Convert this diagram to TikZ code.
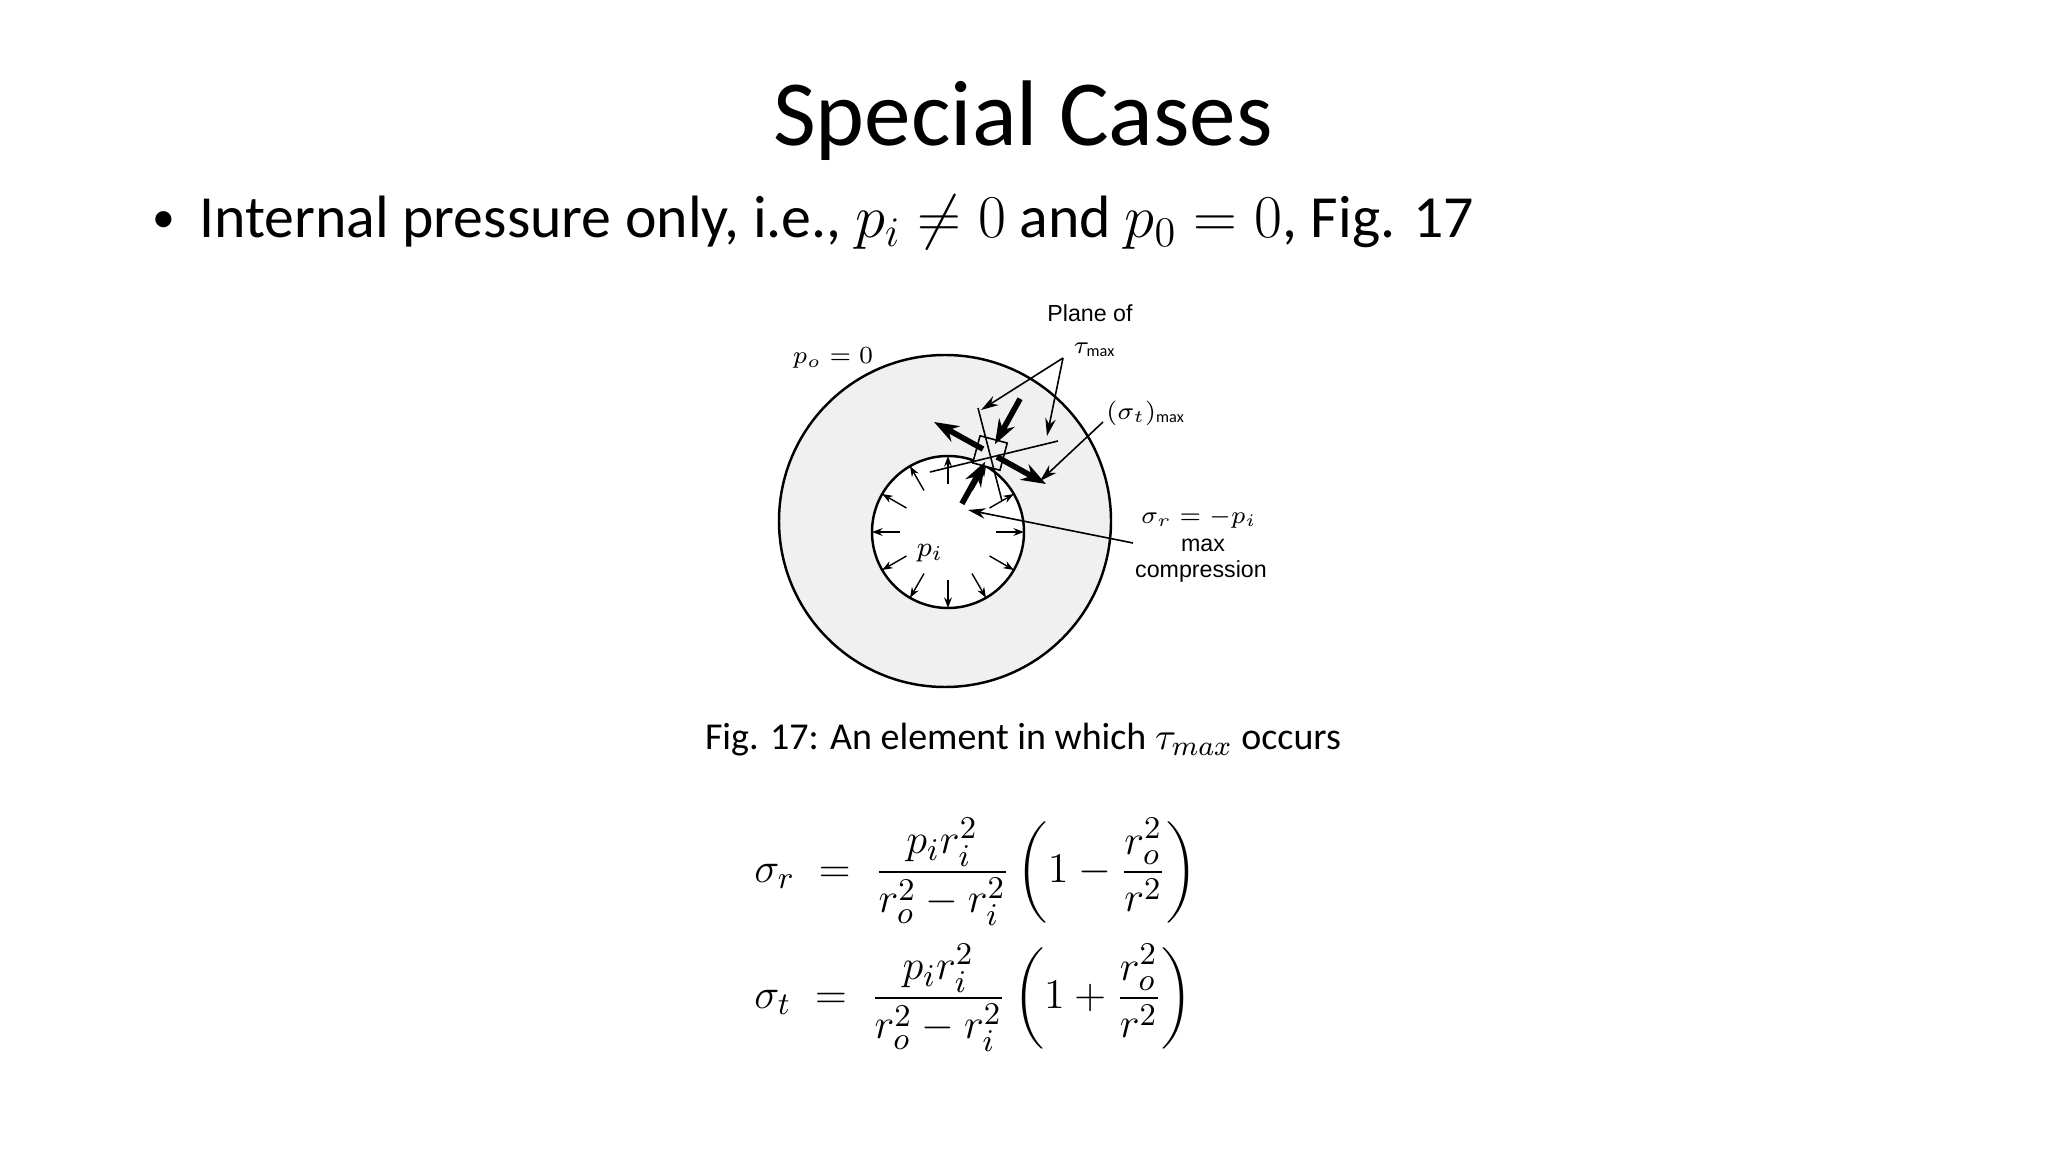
\documentclass[tikz,border=0pt]{standalone}
\usepackage{amsmath}
\usepackage{fontspec}
\setmainfont{Carlito}
\newfontfamily\figfont{Liberation Sans}
\usetikzlibrary{arrows.meta,calc}
\begin{document}
\begin{tikzpicture}[x=0.01cm,y=-0.01cm,
  lbl/.style={font=\figfont\fontsize{6.6}{7.5}\selectfont,inner sep=0pt,align=center},
  thin/.style={line width=0.45pt},
  thick arr/.style={line width=1.6pt,-{Stealth[length=7pt,width=5pt]}},
  small arr/.style={line width=0.4pt,-{Stealth[length=3pt,width=2.2pt]}},
  lead/.style={line width=0.45pt,-{Stealth[length=5pt,width=3pt]}}]
\useasboundingbox (0,0) rectangle (2048,1152);
\fill[white] (0,0) rectangle (2048,1152);
% title and bullet
\node[font=\fontsize{26.5}{30}\selectfont] (title) at (1023,121) {Special Cases};
\node[anchor=west,font=\fontsize{17}{20}\selectfont,inner sep=0pt] (bullet) at (152,222)
  {{\fontsize{13}{13}\selectfont\raisebox{0.1em}{•}}\hspace{0.4em}Internal pressure only, i.e., $p_i \neq 0$ and $p_0 = 0$, Fig. 17};
% figure
\fill[gray!12] (945,521) circle (166);
\draw[line width=0.7pt] (945,521) circle (166);
\fill[white] (948,532) circle (76);
\draw[line width=0.7pt] (948,532) circle (76);
\foreach \a in {0,30,...,330}{
  \draw[small arr] ($(948,532)+(\a:48)$) -- ($(948,532)+(\a:76)$);
}
% element
\coordinate (E) at (990,453);
\node[draw,thin,minimum size=8pt,inner sep=0pt,rotate=-15,fill=gray!12] (elem) at (E) {};
% planes
\draw[thin] (930,472) -- (1058,441);
\draw[thin] (978,408) -- (1002,501);
% thick arrows
\draw[thick arr] ($(E)+(-151:8)$) -- ($(E)+(-151:64)$);
\draw[thick arr] ($(E)+(29:8)$) -- ($(E)+(29:64)$);
\draw[thick arr] ($(E)+(-61:62)$) -- ($(E)+(-61:10)$);
\draw[thick arr] ($(E)+(-61:-58)$) -- ($(E)+(-61:-10)$);
% labels
\node[lbl] (plane) at (1090,313) {Plane of};
\node[lbl] (tau) at (1095,350) {$\tau_{\mathrm{max}}$};
\node[lbl] (po) at (833,358) {$p_o = 0$};
\node[lbl] (sigt) at (1146,413) {$(\sigma_t)_{\mathrm{max}}$};
\node[lbl] (sigr) at (1199,518) {$\sigma_r = -p_i$};
\node[lbl] (mx) at (1203,545) {max};
\node[lbl] (comp) at (1201,571) {compression};
\node[lbl,font=\figfont\fontsize{8}{9}\selectfont] (pi) at (930,553) {$p_i$};
\coordinate (tfrom) at (1063,358);
\draw[lead] (tfrom) -- (981,410);
\draw[lead] (tfrom) -- (1047,436);
\draw[lead] (1103,422) -- (1040,481);
\draw[lead] (1133,543) -- (968,510);
% caption
\node[font=\fontsize{10.8}{13}\selectfont] (cap) at (1023,740) {Fig. 17: An element in which $\tau_{max}$ occurs};
% equations
\node[anchor=west,font=\fontsize{13}{15}\selectfont] (eq1) at (742,872)
  {$\sigma_r \;=\; \dfrac{p_i r_i^2}{r_o^2 - r_i^2}\left(1 - \dfrac{r_o^2}{r^2}\right)$};
\node[anchor=west,font=\fontsize{13}{15}\selectfont] (eq2) at (742,998)
  {$\sigma_t \;=\; \dfrac{p_i r_i^2}{r_o^2 - r_i^2}\left(1 + \dfrac{r_o^2}{r^2}\right)$};
\end{tikzpicture}
\end{document}
